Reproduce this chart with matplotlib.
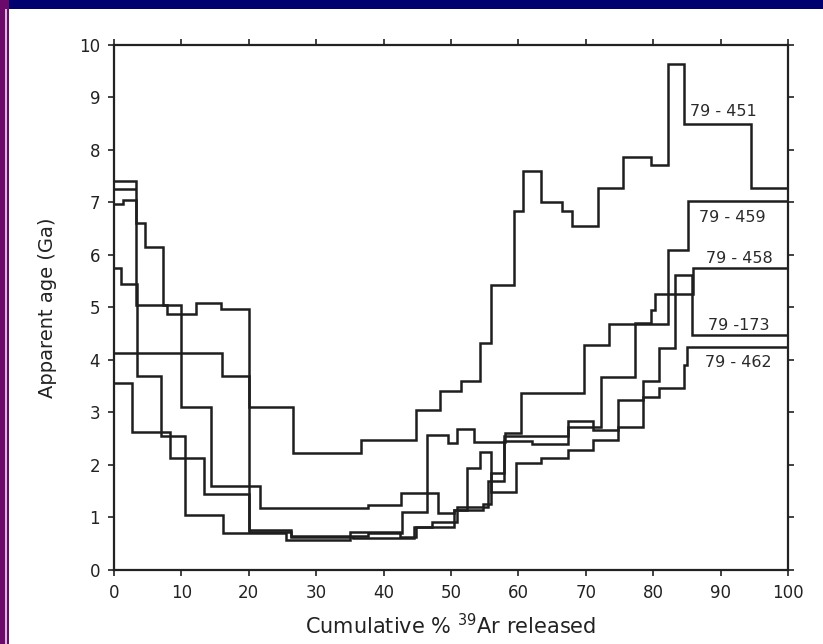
import matplotlib
matplotlib.use("Agg")
import matplotlib.pyplot as plt
from matplotlib.patches import Rectangle

plt.rcParams['font.family'] = ['DejaVu Sans']
plt.rcParams['mathtext.fontset'] = 'dejavusans'

# ---- data: step edges (cumulative % 39Ar) and apparent ages (Ga) ----
s451_edges = [0, 3.2, 4.55, 7.2, 7.9, 12.1, 15.9, 20.1, 26.6, 36.7, 44.8, 48.3, 51.5, 54.3,
              56.0, 59.3, 60.7, 63.3, 66.4, 67.9, 71.8, 75.5, 79.6, 82.2, 84.6, 94.5, 100]
s451_ages = [7.4, 6.6, 6.15, 5.05, 4.88, 5.08, 4.97, 3.1, 2.22, 2.48, 3.05, 3.4, 3.59, 4.32,
             5.43, 6.83, 7.6, 7.0, 6.83, 6.54, 7.27, 7.86, 7.71, 9.62, 8.48, 7.27]
# second (doubled) first-step line visible just under 79-451's first step
s451_first_dup_edges = [0, 3.2]
s451_first_dup_ages = [7.25]

s459_edges = [0, 1.3, 3.2, 10.0, 14.4, 21.6, 37.7, 42.6, 46.5, 49.6, 50.9, 53.4, 58.0, 60.4,
              69.8, 73.5, 82.2, 85.2, 100]
s459_ages = [6.97, 7.05, 5.05, 3.11, 1.59, 1.18, 1.24, 1.46, 2.57, 2.41, 2.69, 2.44, 2.6,
             3.37, 4.29, 4.69, 6.08, 7.03]

s458_edges = [0, 1.1, 3.4, 6.9, 10.6, 16.2, 25.5, 35.0, 42.4, 44.8, 47.2, 50.9, 55.5, 57.9,
              62.0, 67.4, 72.3, 77.3, 79.7, 80.2, 85.9, 100]
s458_ages = [5.75, 5.45, 3.7, 2.55, 1.05, 0.7, 0.58, 0.73, 0.63, 0.82, 0.92, 1.2, 1.7, 2.45,
             2.4, 2.73, 3.68, 4.7, 4.95, 5.26, 5.75]

s173_edges = [0, 16.0, 20.1, 26.2, 35.5, 44.5, 50.5, 54.8, 56.0, 57.9, 67.4, 71.1, 74.8, 78.5,
              80.9, 83.2, 85.7, 100]
s173_ages = [4.13, 3.7, 0.76, 0.62, 0.6, 0.82, 1.15, 1.25, 1.84, 2.55, 2.83, 2.67, 3.24, 3.6,
             4.22, 5.62, 4.48]

s462_edges = [0, 2.6, 8.3, 13.4, 20.1, 26.2, 37.7, 42.8, 46.5, 48.1, 50.5, 52.3, 54.3, 56.0,
              59.7, 63.4, 67.4, 71.1, 74.8, 78.5, 80.9, 84.5, 85.0, 100]
s462_ages = [3.56, 2.63, 2.13, 1.45, 0.72, 0.65, 0.7, 1.1, 1.46, 1.08, 1.15, 1.94, 2.25, 1.49,
             2.03, 2.13, 2.29, 2.48, 2.73, 3.3, 3.46, 3.9, 4.25]

labels = ["79 - 451", "79 - 459", "79 - 458", "79 -173", "79 - 462"]
label_x = [90.4, 91.8, 92.8, 92.7, 92.6]
label_y = [8.73, 6.7, 5.92, 4.65, 3.95]

x_ticks = [0, 10, 20, 30, 40, 50, 60, 70, 80, 90, 100]
y_ticks = [0, 1, 2, 3, 4, 5, 6, 7, 8, 9, 10]

# ---- figure ----
W, H = 823, 644
fig = plt.figure(figsize=(W / 100, H / 100), dpi=100)
fig.patch.set_facecolor('white')

# decorative slide frame
fig.patches.append(Rectangle((0, 1 - 9 / H), 1, 9 / H, transform=fig.transFigure,
                             facecolor='#00006e', edgecolor='none', zorder=0))
fig.patches.append(Rectangle((0, 0), 9 / W, 1, transform=fig.transFigure,
                             facecolor='#6b0a6b', edgecolor='none', zorder=0))
fig.patches.append(Rectangle((5 / W, 0), 1.5 / W, 1 - 9 / H, transform=fig.transFigure,
                             facecolor='#d8b8d8', edgecolor='none', zorder=1))

left, right = 114 / W, 788 / W
bottom, top = 1 - 570 / H, 1 - 44.5 / H
ax = fig.add_axes([left, bottom, right - left, top - bottom])

line_kw = dict(color='#1e1e1e', linewidth=1.8, baseline=None)
for e, v in [(s451_edges, s451_ages), (s451_first_dup_edges, s451_first_dup_ages),
             (s459_edges, s459_ages), (s458_edges, s458_ages),
             (s173_edges, s173_ages), (s462_edges, s462_ages)]:
    ax.stairs(v, e, **line_kw)

for t, lx, ly in zip(labels, label_x, label_y):
    ax.text(lx, ly, t, ha='center', va='center', fontsize=11.5, color='#2a2a2a')

ax.set_xlim(0, 100)
ax.set_ylim(0, 10)
ax.set_xticks(x_ticks)
ax.set_yticks(y_ticks)
ax.tick_params(direction='out', length=4, width=1.2, labelsize=12, colors='#222222',
               top=True, right=True, labeltop=False, labelright=False, pad=6)
for s in ax.spines.values():
    s.set_linewidth(1.6)
    s.set_color('#222222')

ax.set_xlabel(r'Cumulative % $^{\mathregular{39}}$Ar released', fontsize=15, color='#222222',
              labelpad=8)
ax.set_ylabel('Apparent age (Ga)', fontsize=14, color='#222222', labelpad=16)

fig.savefig('out.png', dpi=100, facecolor=fig.get_facecolor())
